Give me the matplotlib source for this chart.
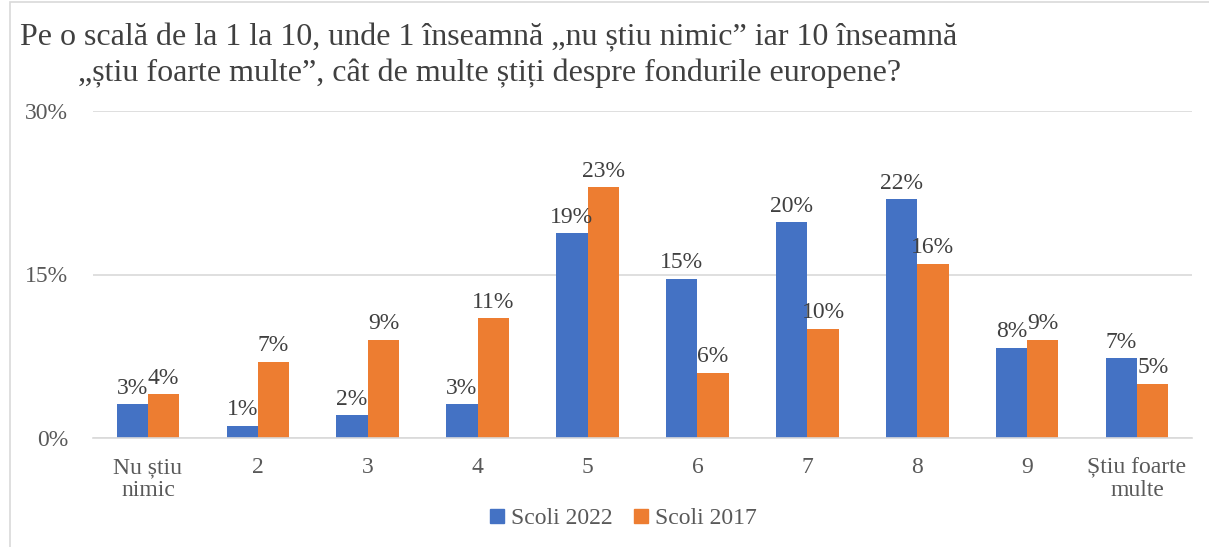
import matplotlib.pyplot as plt
import numpy as np
from matplotlib.patches import Rectangle
from matplotlib.lines import Line2D

plt.rcParams['font.family'] = ['Liberation Serif', 'DejaVu Serif']

# data
categories = ['Nu știu\nnimic', '2', '3', '4', '5', '6', '7', '8', '9', 'Știu foarte\nmulte']
scoli_2022 = [3.1, 1.1, 2.1, 3.1, 18.8, 14.6, 19.8, 21.9, 8.3, 7.3]
scoli_2017 = [4.0, 7.0, 9.0, 11.0, 23.0, 6.0, 10.0, 16.0, 9.0, 5.0]
series_names = ['Scoli 2022', 'Scoli 2017']
title_lines = ['Pe o scală de la 1 la 10, unde 1 înseamnă „nu știu nimic” iar 10 înseamnă',
               '„știu foarte multe”, cât de multe știți despre fondurile europene?']

blue = '#4472C4'
orange = '#ED7D31'
W, H = 1209, 547

fig = plt.figure(figsize=(W / 100, H / 100), dpi=100)
# chart frame
fig.patches.append(Rectangle((10 / W, -0.01), 1, 1 - 2 / H + 0.01, transform=fig.transFigure,
                             fill=False, edgecolor='#D9D9D9', linewidth=1.2))

ax = fig.add_axes([93 / W, (H - 438) / H, 1099 / W, (438 - 111) / H])
x = np.arange(len(categories))
bw = 0.285
b1 = ax.bar(x - bw / 2, scoli_2022, bw, color=blue, label=series_names[0])
b2 = ax.bar(x + bw / 2, scoli_2017, bw, color=orange, label=series_names[1])

for bars, vals in ((b1, scoli_2022), (b2, scoli_2017)):
    for bar, v in zip(bars, vals):
        ax.annotate(f'{round(v):d}%', (bar.get_x() + bar.get_width() / 2, bar.get_height()),
                    xytext=(0, 4), textcoords='offset points', ha='center', va='bottom',
                    fontsize=17, color='#404040')

ax.set_xlim(-0.5, len(categories) - 0.5)
ax.set_ylim(0, 30)
ax.set_yticks([0, 15, 30])
ax.set_yticklabels(['0%', '15%', '30%'])
ax.set_xticks(x)
ax.set_xticklabels(categories, linespacing=1.1)
ax.tick_params(length=0, labelsize=17, labelcolor='#595959')
ax.tick_params(axis='y', pad=18)
ax.tick_params(axis='x', pad=14)
ax.yaxis.grid(True, color='#D9D9D9', linewidth=1.2)
ax.set_axisbelow(True)
for s in ['top', 'right', 'left']:
    ax.spines[s].set_visible(False)
ax.spines['bottom'].set_color('#D9D9D9')
ax.spines['bottom'].set_linewidth(1.2)

fig.text(20 / W, 1 - 38 / H, title_lines[0], fontsize=23, color='#404040', va='center', ha='left')
fig.text(78 / W, 1 - 73 / H, title_lines[1], fontsize=23, color='#404040', va='center', ha='left')

handles = [Line2D([], [], marker='s', linestyle='none', markersize=10, color=blue),
           Line2D([], [], marker='s', linestyle='none', markersize=10, color=orange)]
fig.legend(handles, series_names, loc='center', bbox_to_anchor=(620 / W, 1 - 518 / H), ncol=2,
           frameon=False, fontsize=17, labelcolor='#595959', handletextpad=0.0,
           handlelength=1.2, columnspacing=0.6)

fig.savefig('out.png', dpi=100)
